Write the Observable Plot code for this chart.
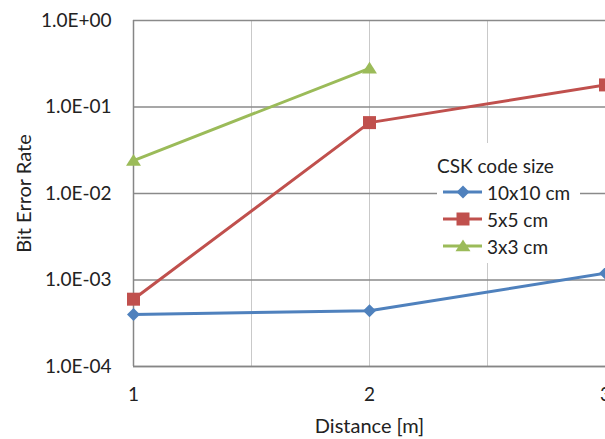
<!DOCTYPE html>
<html><head><meta charset="utf-8">
<script src="https://cdn.jsdelivr.net/npm/d3@7"></script>
<script src="https://cdn.jsdelivr.net/npm/@observablehq/plot@0.6"></script>
<style>
html,body{margin:0;padding:0;background:#fff;}
#chart{position:relative;width:605px;height:439px;overflow:hidden;font-family:Lato,sans-serif;}
#chart svg{position:absolute;left:0;top:0;}
</style></head><body><div id="chart"></div>
<script>
const distances = [1, 2, 3];
const seriesNames = ["10x10 cm", "5x5 cm", "3x3 cm"];
const ber10x10 = [4.0e-4, 4.4e-4, 1.2e-3];
const ber5x5 = [6.0e-4, 6.6e-2, 1.8e-1];
const ber3x3 = [2.4e-2, 2.8e-1];
const seriesColors = ["#4F81BD", "#C0504D", "#9BBB59"];
const yTicks = [1e-4, 1e-3, 1e-2, 1e-1, 1];
const yTickLabels = ["1.0E-04", "1.0E-03", "1.0E-02", "1.0E-01", "1.0E+00"];
const xTicks = [1, 2, 3];
const xTickLabels = ["1", "2", "3"];
const xGrid = [1.5, 2, 2.5];
const legendTitle = "CSK code size";
const xLabel = "Distance [m]";
const yLabel = "Bit Error Rate";

const seriesValues = [ber10x10, ber5x5, ber3x3];
const rows = [];
seriesNames.forEach((s, i) => seriesValues[i].forEach((v, j) => rows.push({series: s, x: distances[j], y: v})));

const diamond = {draw(ctx, size) {const r = Math.sqrt(size / Math.PI); ctx.moveTo(0, -r); ctx.lineTo(r, 0); ctx.lineTo(0, r); ctx.lineTo(-r, 0); ctx.closePath();}};
const square = {draw(ctx, size) {const r = Math.sqrt(size / Math.PI); ctx.rect(-r, -r, 2 * r, 2 * r);}};
const triangle = {draw(ctx, size) {const r = Math.sqrt(size / Math.PI); ctx.moveTo(0, -r * 1.0); ctx.lineTo(r * 1.15, r * 0.8); ctx.lineTo(-r * 1.15, r * 0.8); ctx.closePath();}};
const symbols = [diamond, square, triangle];
const R = 6.5;

const plot = Plot.plot({
  width: 605, height: 439,
  marginLeft: 133, marginRight: 0, marginTop: 20, marginBottom: 73,
  style: {fontFamily: "Lato, sans-serif", fontSize: "19px", color: "#222", background: "transparent"},
  x: {domain: [1, 3]},
  y: {type: "log", domain: [1e-4, 1]},
  color: {domain: seriesNames, range: seriesColors},
  symbol: {domain: seriesNames, range: symbols},
  marks: [
    Plot.gridX(xGrid, {stroke: "#c9c9c9", strokeOpacity: 1, strokeWidth: 1}),
    Plot.gridY(yTicks, {stroke: "#8a8a8a", strokeOpacity: 1, strokeWidth: 1.3}),
    Plot.ruleX([distances[0]], {stroke: "#868686", strokeWidth: 1.5}),
    Plot.ruleY([yTicks[0]], {stroke: "#868686", strokeWidth: 1.5}),
    Plot.line(rows, {x: "x", y: "y", z: "series", stroke: "series", strokeWidth: 3}),
    Plot.dot(rows, {x: "x", y: "y", symbol: "series", fill: "series", stroke: "none", r: R}),
    Plot.axisY(yTicks, {tickFormat: d => yTickLabels[yTicks.indexOf(d)], tickSize: 0, tickPadding: 22, label: null, fill: "#222"}),
    Plot.axisX(xTicks, {tickFormat: d => xTickLabels[xTicks.indexOf(d)], tickSize: 0, tickPadding: 21, label: null, fill: "#222"}),
    Plot.text([xLabel], {frameAnchor: "bottom", textAnchor: "middle", lineAnchor: "middle", dy: 60, fill: "#222", fontSize: 20}),
    Plot.text([yLabel], {frameAnchor: "left", textAnchor: "middle", lineAnchor: "middle", dx: -109, rotate: -90, fill: "#222", fontSize: 20})
  ]
});
document.getElementById("chart").appendChild(plot);

// legend overlay
const lg = d3.select("#chart").append("svg").attr("width", 605).attr("height", 439)
  .style("font-family", "Lato, sans-serif").style("font-size", "19px");
lg.append("rect").attr("x", 437).attr("y", 143).attr("width", 143).attr("height", 120).attr("fill", "#fff");
lg.append("text").attr("x", 437).attr("y", 165).attr("dominant-baseline", "central").attr("fill", "#222").text(legendTitle);
seriesNames.forEach((s, i) => {
  const y = 192 + i * 27;
  lg.append("line").attr("x1", 443).attr("x2", 482).attr("y1", y).attr("y2", y).attr("stroke", seriesColors[i]).attr("stroke-width", 3);
  lg.append("path").attr("transform", `translate(463,${y})`).attr("d", d3.symbol(symbols[i], Math.PI * R * R)()).attr("fill", seriesColors[i]);
  lg.append("text").attr("x", 487).attr("y", y).attr("dominant-baseline", "central").attr("fill", "#222").text(s);
});
</script></body></html>
